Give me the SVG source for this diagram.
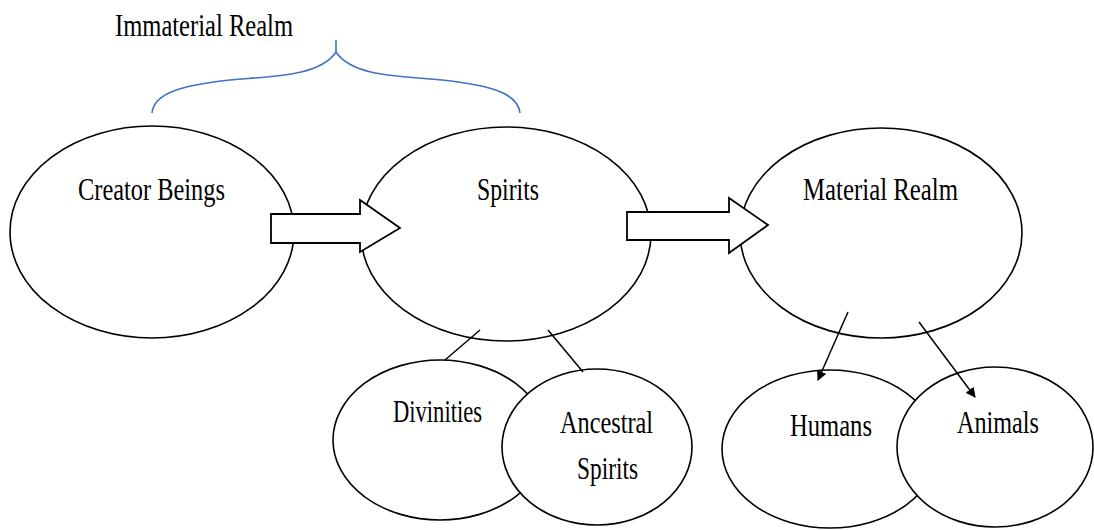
<svg xmlns="http://www.w3.org/2000/svg" width="1094" height="530" viewBox="0 0 1094 530">
<style>
.n{fill:#fff;stroke:#000;stroke-width:1.6}
.t{font-family:"Liberation Serif","Times New Roman",serif;font-size:32px;fill:#000}
.ba{fill:#fff;stroke:#000;stroke-width:1.8;stroke-linejoin:miter}
.ln{stroke:#000;stroke-width:1.5;fill:none}
</style>
<defs>
<marker id="ah" markerWidth="10" markerHeight="10" refX="9" refY="5" orient="auto" markerUnits="userSpaceOnUse">
<path d="M0,0 L10,5 L0,10 Z" fill="#000"/>
</marker>
</defs>
<rect width="1094" height="530" fill="#fff"/>
<g id="immaterial-realm">
<path d="M152,113 C154,92 185,85 230,80 C275,76 320,76 336,52 L336,40 M336,52 C352,76 397,76 442,80 C487,85 518,92 520,113" fill="none" stroke="#4472C4" stroke-width="1.6"/>
<text class="t" x="115" y="36" textLength="178" lengthAdjust="spacingAndGlyphs">Immaterial Realm</text>
</g>
<g id="creator-beings">
<ellipse class="n" cx="152" cy="232" rx="142" ry="106"/>
<text class="t" x="78" y="200" textLength="147" lengthAdjust="spacingAndGlyphs">Creator Beings</text>
</g>
<g id="spirits">
<ellipse class="n" cx="506" cy="234" rx="145" ry="107"/>
<text class="t" x="477" y="200" textLength="62" lengthAdjust="spacingAndGlyphs">Spirits</text>
</g>
<g id="material-realm">
<ellipse class="n" cx="881" cy="233" rx="141" ry="105"/>
<text class="t" x="803" y="200" textLength="155" lengthAdjust="spacingAndGlyphs">Material Realm</text>
</g>
<g id="divinities">
<ellipse class="n" cx="440" cy="440" rx="107" ry="80"/>
<text class="t" x="393" y="422" textLength="89" lengthAdjust="spacingAndGlyphs">Divinities</text>
</g>
<g id="ancestral-spirits">
<ellipse class="n" cx="597" cy="447" rx="95" ry="78"/>
<text class="t" x="560" y="433" textLength="93" lengthAdjust="spacingAndGlyphs">Ancestral</text>
<text class="t" x="577" y="479" textLength="61" lengthAdjust="spacingAndGlyphs">Spirits</text>
</g>
<g id="humans">
<ellipse class="n" cx="830" cy="449" rx="108" ry="79"/>
<text class="t" x="790" y="436" textLength="82" lengthAdjust="spacingAndGlyphs">Humans</text>
</g>
<g id="animals">
<ellipse class="n" cx="995" cy="447" rx="98" ry="80"/>
<text class="t" x="957" y="433" textLength="82" lengthAdjust="spacingAndGlyphs">Animals</text>
</g>
<g id="connectors">
<path class="ba" d="M271,214 L360,214 L360,200 L400,228 L360,252 L360,243 L271,243 Z"/>
<path class="ba" d="M627,212 L729,212 L729,198 L768,225 L729,253 L729,240 L627,240 Z"/>
<line class="ln" x1="480" y1="330" x2="445" y2="360"/>
<line class="ln" x1="548" y1="330" x2="583" y2="372"/>
<line class="ln" x1="848" y1="312" x2="818" y2="380" marker-end="url(#ah)"/>
<line class="ln" x1="919" y1="322" x2="975" y2="397" marker-end="url(#ah)"/>
</g>
</svg>
